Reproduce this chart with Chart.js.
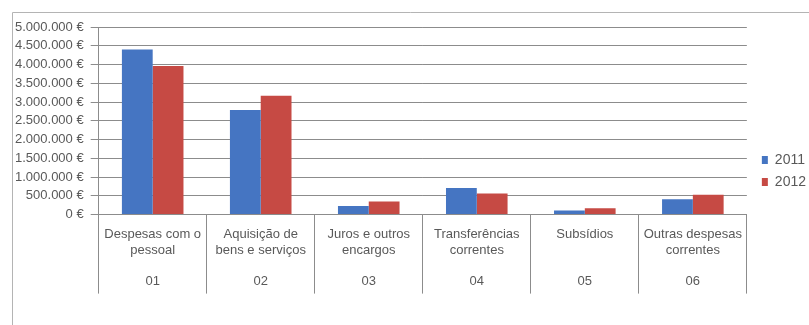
<!DOCTYPE html>
<html>
<head>
<meta charset="utf-8">
<script src="https://cdn.jsdelivr.net/npm/chart.js@4.4.1/dist/chart.umd.min.js"></script>
<style>
  html, body { margin: 0; padding: 0; background: #fff; }
  #wrap { width: 809px; height: 325px; position: relative; }
</style>
</head>
<body>
<div id="wrap"><canvas id="despesasChart"></canvas></div>
<script>
// DADOS
const categorias = [
    ["Despesas com o", "pessoal"],
    ["Aquisição de", "bens e serviços"],
    ["Juros e outros", "encargos"],
    ["Transferências", "correntes"],
    ["Subsídios", ""],
    ["Outras despesas", "correntes"]
];
const codigos = ["01", "02", "03", "04", "05", "06"];
const valores2011 = [4400000, 2790000, 230000, 710000, 110000, 410000];
const valores2012 = [3960000, 3170000, 350000, 560000, 170000, 530000];
const anos = ["2011", "2012"];
const yMax = 5000000;
const yStep = 500000;

const cinza = "#8c8c8c";
const texto = "#595959";
const fonte = "'Liberation Sans', Arial, sans-serif";

// rótulos em dois níveis (texto + código)
const rotulos = categorias.map((c, i) => [c[0], c[1], "", codigos[i]]);

function formatEuro(v) {
    return v.toString().replace(/\B(?=(\d{3})+(?!\d))/g, ".") + " €";
}

// moldura do gráfico (estilo Excel)
const moldura = {
    id: "moldura",
    beforeDraw(chart) {
        const ctx = chart.ctx;
        ctx.save();
        ctx.strokeStyle = "#b4b4b4";
        ctx.lineWidth = 1;
        ctx.beginPath();
        ctx.moveTo(12.5, chart.height);
        ctx.lineTo(12.5, 12.5);
        ctx.lineTo(chart.width, 12.5);
        ctx.stroke();
        ctx.restore();
    }
};

// afasta um pouco a legenda da área do gráfico
const legendaOffset = {
    id: "legendaOffset",
    afterLayout(chart) {
        const lg = chart.legend;
        if (lg) {
            lg.left += 7;
            lg.right += 7;
        }
    }
};

const ctx = document.getElementById("despesasChart").getContext("2d");
new Chart(ctx, {
    type: "bar",
    data: {
        labels: rotulos,
        datasets: [{
            label: anos[0],
            data: valores2011,
            backgroundColor: "#4575c2"
        }, {
            label: anos[1],
            data: valores2012,
            backgroundColor: "#c64a44"
        }]
    },
    options: {
        responsive: true,
        maintainAspectRatio: false,
        animation: false,
        layout: {
            padding: { top: 27, bottom: 10, left: 8, right: 0 }
        },
        datasets: {
            bar: { categoryPercentage: 0.57, barPercentage: 1.0 }
        },
        plugins: {
            legend: {
                position: "right",
                labels: {
                    boxWidth: 6,
                    boxHeight: 8,
                    padding: 8,
                    color: texto,
                    font: { family: fonte, size: 14 }
                }
            },
            tooltip: { enabled: false }
        },
        scales: {
            x: {
                grid: {
                    offset: true,
                    drawOnChartArea: false,
                    drawTicks: true,
                    tickLength: 79,
                    color: cinza
                },
                border: { color: cinza },
                ticks: {
                    padding: -67,
                    color: texto,
                    maxRotation: 0,
                    autoSkip: false,
                    font: { family: fonte, size: 13, lineHeight: 1.2 }
                },
                title: {
                    display: true,
                    text: "",
                    font: { size: 13, lineHeight: 1 },
                    padding: { top: 0, bottom: 80 }
                }
            },
            y: {
                min: 0,
                max: yMax,
                grid: {
                    color: cinza,
                    tickLength: 8
                },
                border: { color: cinza },
                ticks: {
                    stepSize: yStep,
                    padding: 7,
                    color: texto,
                    font: { family: fonte, size: 13 },
                    callback: v => formatEuro(v)
                }
            }
        }
    },
    plugins: [moldura, legendaOffset]
});
</script>
</body>
</html>
